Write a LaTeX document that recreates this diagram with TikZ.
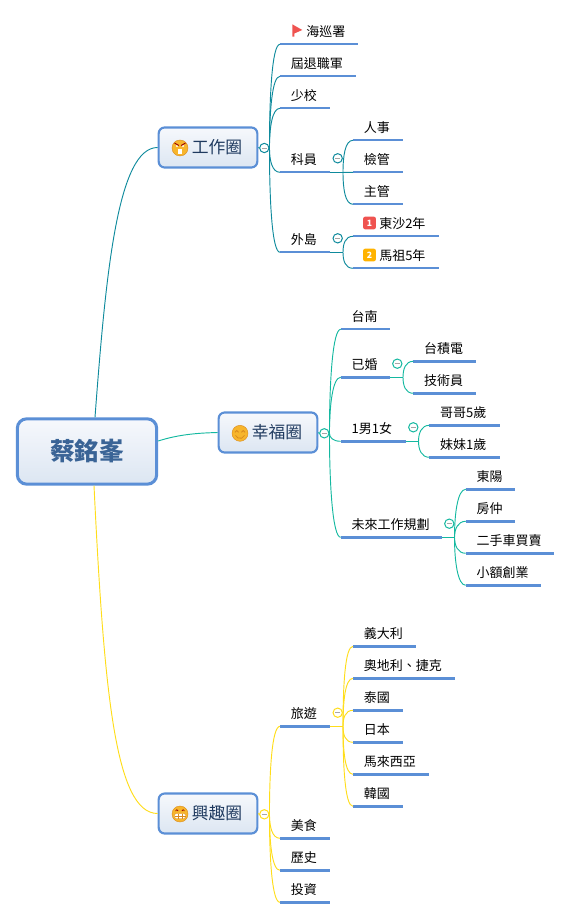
\documentclass[tikz,border=0pt]{standalone}
\usepackage{fontspec}
\setmainfont{Noto Sans CJK TC}
\usetikzlibrary{calc}
\definecolor{barblue}{HTML}{5B8FD6}
\definecolor{boxtop}{HTML}{F6F8FC}
\definecolor{boxbot}{HTML}{DCE6F2}
\definecolor{subtext}{HTML}{1F3A5F}
\definecolor{maintext}{HTML}{3A6496}
\definecolor{ctea}{HTML}{0E8A9C}
\definecolor{cgrn}{HTML}{14B8A0}
\definecolor{cyel}{HTML}{FFDD1A}
\definecolor{faceor}{HTML}{F7B52C}
\definecolor{faceln}{HTML}{D98A1E}
\definecolor{flagred}{HTML}{EF5350}
\definecolor{badgeor}{HTML}{FFB300}
\tikzset{
 x=0.75pt,y=-0.75pt,
 leaf/.style={anchor=south west,inner sep=0pt,align=left,text height=8.25pt,text depth=5.6pt,font=\fontsize{9.75pt}{11pt}\selectfont},
 subbox/.style={draw=barblue,line width=1.6pt,rounded corners=4.5pt,top color=boxtop,bottom color=boxbot,minimum width=74pt,minimum height=30pt,inner sep=0pt,text=subtext,font=\fontsize{12.6pt}{14pt}\selectfont},
 mainbox/.style={draw=barblue,line width=2.3pt,rounded corners=7pt,top color=boxtop,bottom color=boxbot,minimum width=104.5pt,minimum height=49pt,inner sep=0pt,text=maintext,font=\fontsize{18.5pt}{20pt}\selectfont\bfseries},
 collapse/.style={circle,fill=white,draw=#1,line width=0.75pt,minimum size=7pt,inner sep=0pt},
 conn/.style={line width=0.7pt,draw=#1},
 bar/.style={line width=1.8pt,draw=barblue},
 badge/.style={rounded corners=1.5pt,minimum size=9.5pt,inner sep=0pt,text=white,font=\fontsize{6.5pt}{7pt}\selectfont\bfseries},
}
\newcommand{\leafnode}[5]{\node[leaf,text width={(#3-#2)*0.75pt}] (#1) at (#2,#4) {#5};\draw[bar] (#1.south west) -- (#1.south east);}
\newcommand{\lf}[5]{\leafnode{#1}{#2}{#3}{#4}{\hspace*{8pt}#5}}
\newcommand{\lficon}[5]{\leafnode{#1}{#2}{#3}{#4}{\hspace*{19.5pt}#5}}
\newcommand{\branch}[3]{\draw[conn=#1] (#2) .. controls ($(#2)!.5!(#2 |- #3.south west)$) and ($(#3.south west)+(-8,0)$) .. (#3.south west);}
\newcommand{\cmark}[4]{\node[collapse=#1] (#2) at (#3,#4) {};\draw[line width=0.6pt,draw=gray!70] ($(#2)+(-2.5,0)$) -- ($(#2)+(2.5,0)$);}
\newcommand{\facebase}[1]{\fill[faceor] (#1) circle (8);\draw[faceln,line width=0.3pt] (#1) circle (8);}
\begin{document}
\begin{tikzpicture}
\useasboundingbox (0,0) rectangle (571,919);
% central and main topics
\node[mainbox] (root) at (87,451.5) {蔡銘峯};
\node[subbox] (work) at (208,147.5) {\hspace*{13.5pt}工作圈};
\node[subbox] (happy) at (268,432.5) {\hspace*{13.5pt}幸福圈};
\node[subbox] (fun) at (208,813.5) {\hspace*{13.5pt}興趣圈};
\draw[conn=ctea] (root.north) ++(8,0) coordinate (rt) .. controls (106,270) and (118,147.5) .. (work.west);
\draw[conn=cgrn] (root.east |- 0,441) coordinate (re) .. controls (180,434) and (200,433) .. (happy.west);
\draw[conn=cyel] (root.south) ++(7,0) coordinate (rb) .. controls (104,690) and (115,813.5) .. (fun.west);
% work branch
\cmark{ctea}{wc}{264.3}{148}
\draw[conn=ctea] (work.east) -- (wc.west);
\coordinate (ws) at (wc.east);
\lficon{w1}{280}{357}{44.3}{海巡署}
\lf{w2}{280}{355}{76.3}{屆退職軍}
\lf{w3}{280}{329}{108.3}{少校}
\lf{w4}{280}{329}{172.3}{科員}
\lf{w5}{280}{329}{252.3}{外島}
\foreach \n in {w1,w2,w3,w4,w5}{\branch{ctea}{ws}{\n}}
\lf{w41}{353}{402}{140.3}{人事}
\lf{w42}{353}{402}{172.3}{檢管}
\lf{w43}{353}{402}{204.3}{主管}
\coordinate (wj4) at (343,172.3);
\draw[conn=ctea] (w4.south east) -- (wj4);
\foreach \n in {w41,w42,w43}{\branch{ctea}{wj4}{\n}}
\cmark{ctea}{wc4}{337.7}{158.3}
\lficon{w51}{353}{438}{236.3}{東沙2年}
\lficon{w52}{353}{438}{268.3}{馬祖5年}
\coordinate (wj5) at (343,252.3);
\draw[conn=ctea] (w5.south east) -- (wj5);
\foreach \n in {w51,w52}{\branch{ctea}{wj5}{\n}}
\cmark{ctea}{wc5}{337.7}{238.3}
\fill[flagred] (292.3,24.3) -- (302.3,30) -- (294.3,33.5) -- (294.3,36.7) -- (292.3,36.7) -- cycle;
\node[badge,fill=flagred] (bd1) at (369.5,223) {1};
\node[badge,fill=badgeor] (bd2) at (369.5,255) {2};
% happy branch
\cmark{cgrn}{hc}{324.3}{433.3}
\draw[conn=cgrn] (happy.east) -- (hc.west);
\coordinate (hs) at (hc.east);
\lf{h1}{340.7}{389.3}{329.3}{台南}
\lf{h2}{340.7}{389.3}{377.3}{已婚}
\lf{h3}{340.7}{405.7}{441.3}{1男1女}
\lf{h4}{340.7}{441}{537.3}{未來工作規劃}
\foreach \n in {h1,h2,h3,h4}{\branch{cgrn}{hs}{\n}}
\lf{h21}{413.3}{475.7}{361.3}{台積電}
\lf{h22}{413.3}{475.7}{393.3}{技術員}
\coordinate (hj2) at (403,377.3);
\draw[conn=cgrn] (h2.south east) -- (hj2);
\foreach \n in {h21,h22}{\branch{cgrn}{hj2}{\n}}
\cmark{cgrn}{hc2}{397.3}{363.7}
\lf{h31}{429.3}{499.7}{425.3}{哥哥5歲}
\lf{h32}{429.3}{499.7}{457.3}{妹妹1歲}
\coordinate (hj3) at (418.5,441.3);
\draw[conn=cgrn] (h3.south east) -- (hj3);
\foreach \n in {h31,h32}{\branch{cgrn}{hj3}{\n}}
\cmark{cgrn}{hc3}{413.3}{427.3}
\lf{h41}{465.7}{514.7}{489.3}{東陽}
\lf{h42}{465.7}{514.7}{521.3}{房仲}
\lf{h43}{465.7}{553.7}{553.3}{二手車買賣}
\lf{h44}{465.7}{540.7}{585.3}{小額創業}
\coordinate (hj4) at (454.5,537.3);
\draw[conn=cgrn] (h4.south east) -- (hj4);
\foreach \n in {h41,h42,h43,h44}{\branch{cgrn}{hj4}{\n}}
\cmark{cgrn}{hc4}{449.3}{523.7}
% fun branch
\cmark{cyel}{fc}{264.3}{814.3}
\draw[conn=cyel] (fun.east) -- (fc.west);
\coordinate (fs) at (fc.east);
\lf{f1}{280}{329}{726.3}{旅遊}
\lf{f2}{280}{329}{838.3}{美食}
\lf{f3}{280}{329}{870.3}{歷史}
\lf{f4}{280}{329}{902.3}{投資}
\foreach \n in {f1,f2,f3,f4}{\branch{cyel}{fs}{\n}}
\lf{f11}{353}{415.5}{646.3}{義大利}
\lf{f12}{353}{454.5}{678.3}{奧地利、捷克}
\lf{f13}{353}{402.5}{710.3}{泰國}
\lf{f14}{353}{402.5}{742.3}{日本}
\lf{f15}{353}{428.5}{774.3}{馬來西亞}
\lf{f16}{353}{402.5}{806.3}{韓國}
\coordinate (fj1) at (343,726.3);
\draw[conn=cyel] (f1.south east) -- (fj1);
\foreach \n in {f11,f12,f13,f14,f15,f16}{\branch{cyel}{fj1}{\n}}
\cmark{cyel}{fc1}{337.7}{712.7}
% faces
\coordinate (fa) at (180,148);
\facebase{fa}
\fill[white] ($(fa)+(-2.2,1)$) rectangle ($(fa)+(2.2,6)$);
\fill[white] ($(fa)+(-3,-2)$) circle (1.2) ($(fa)+(3,-2)$) circle (1.2);
\draw[red!60!black,line width=0.7pt] ($(fa)+(-5.5,-5)$) -- ($(fa)+(-1.2,-2.5)$) ($(fa)+(5.5,-5)$) -- ($(fa)+(1.2,-2.5)$);
\coordinate (fb) at (240,433.3);
\facebase{fb}
\draw[faceln,line width=0.6pt] ($(fb)+(-5,-1)$) arc (180:360:1.8) ($(fb)+(1.4,-1)$) arc (180:360:1.8);
\draw[faceln,line width=0.6pt] ($(fb)+(-4.5,2)$) arc (160:20:4.8);
\coordinate (fc0) at (180,814);
\facebase{fc0}
\fill[white,draw=faceln,line width=0.3pt,rounded corners=1pt] ($(fc0)+(-5.5,-0.5)$) rectangle ($(fc0)+(5.5,4.5)$);
\draw[faceln,line width=0.3pt] ($(fc0)+(-5.5,2)$) -- ($(fc0)+(5.5,2)$) ($(fc0)+(-2,-0.5)$) -- ($(fc0)+(-2,4.5)$) ($(fc0)+(2,-0.5)$) -- ($(fc0)+(2,4.5)$);
\draw[red!60!black,line width=0.5pt] ($(fc0)+(-4.5,-3)$) arc (180:360:1.3) ($(fc0)+(1.9,-3)$) arc (180:360:1.3);
\end{tikzpicture}
\end{document}
